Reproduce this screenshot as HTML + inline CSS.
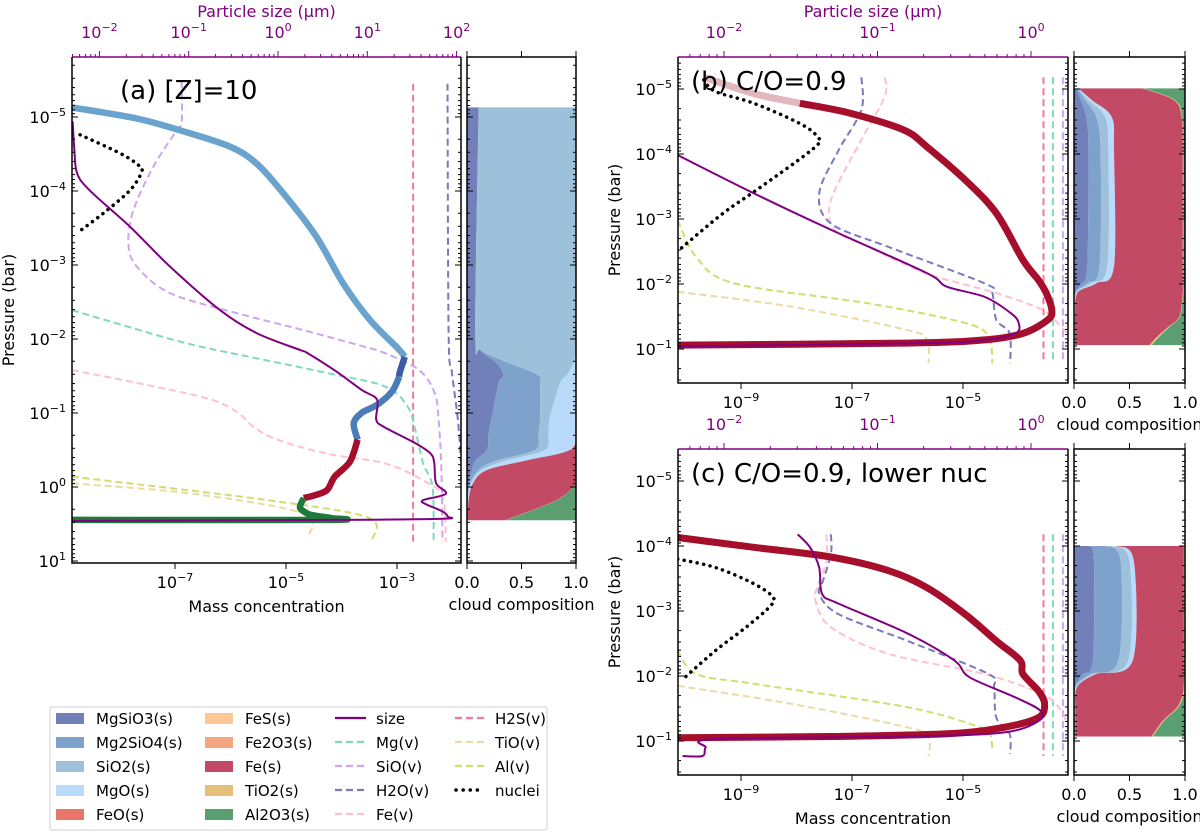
<!DOCTYPE html>
<html><head><meta charset="utf-8"><style>
html,body{margin:0;padding:0;background:#fff;}
svg{display:block;font-family:"DejaVu Sans","Liberation Sans",sans-serif;}
</style></head><body>
<svg id="chart" width="1200" height="834" viewBox="0 0 1200 834" xmlns="http://www.w3.org/2000/svg"></svg>
<script>
// ===== Panel (a) data: log10 mass concentration (x) / log10 pressure (p) =====
const aCloudX=[-8.86,-7.69,-6.91,-6.01,-5.53,-5.05,-4.45,-3.97,-3.49,-2.98,-2.86,-2.95,-2.96,-3.09,-3.36,-3.64,-3.78,-3.71,-3.85,-4.12,-4.26,-4.47,-4.68,-4.75,-4.68,-4.54,-4.19,-4.25,-8.86];
const aCloudP=[-5.13,-4.98,-4.82,-4.60,-4.37,-3.97,-3.38,-2.75,-2.26,-1.87,-1.76,-1.55,-1.49,-1.29,-1.11,-1.0,-0.86,-0.64,-0.34,-0.14,0.04,0.11,0.15,0.27,0.33,0.38,0.42,0.445,0.445];
const aCloudSp=['SiO2','SiO2','SiO2','SiO2','SiO2','SiO2','SiO2','SiO2','SiO2','SiO2','SiO2','MgSiO3','MgSiO3','Mg2SiO4','Mg2SiO4','Mg2SiO4','Mg2SiO4','Mg2SiO4','Fe','Fe','Fe','Fe','Fe','Al2O3','Al2O3','Al2O3','Al2O3','Al2O3','Al2O3'];
const aSizeS=[-2.30,-2.28,-2.25,-2.11,-1.66,-1.21,-0.65,-0.24,0.25,0.33,0.63,0.94,1.11,1.10,1.19,1.54,1.71,1.75,1.77,1.88,1.62,1.67,1.84,1.90,1.84,0.59,-2.31];
const aSizeP=[-4.94,-4.55,-4.24,-4.01,-3.52,-2.98,-2.39,-2.08,-1.85,-1.81,-1.58,-1.31,-1.18,-0.91,-0.81,-0.59,-0.45,-0.32,-0.05,0.09,0.18,0.24,0.33,0.40,0.43,0.445,0.46];
const aNucX=[-8.71,-7.99,-7.66,-7.60,-7.81,-8.29,-8.77];
const aNucP=[-4.76,-4.51,-4.35,-4.26,-4.01,-3.70,-3.43];
const aSioX=[-6.88,-6.88,-6.97,-7.39,-7.75,-7.84,-7.69,-7.09,-5.89,-4.69,-3.61,-3.22,-2.60,-2.32,-2.25,-2.20,-2.18];
const aSioP=[-5.48,-4.94,-4.82,-4.33,-3.74,-3.29,-2.98,-2.62,-2.35,-2.12,-1.90,-1.81,-1.58,-1.27,-0.91,-0.23,0.74];
const aMgX=[-8.86,-7.04,-6.25,-5.99,-4.26,-3.22,-2.81,-2.67,-2.53,-2.36,-2.34];
const aMgP=[-2.39,-1.99,-1.85,-1.81,-1.54,-1.36,-1.09,-0.77,-0.32,0.0,0.74];
const aFevX=[-8.86,-7.38,-6.34,-5.86,-5.58,-5.16,-4.26,-3.22,-2.53,-2.18,-2.12];
const aFevP=[-1.58,-1.36,-1.18,-1.0,-0.81,-0.64,-0.45,-0.32,-0.09,0.13,0.74];
const aAlX=[-8.86,-5.31,-3.50,-3.47];
const aAlP=[-0.14,0.18,0.42,0.74];
const aTioX=[-8.86,-6.69,-4.68,-4.61];
const aTioP=[-0.05,0.09,0.36,0.69];
const aH2sX=[-2.71,-2.71];
const aH2sP=[-5.45,0.74];
const aH2oX=[-2.09,-2.07,-2.01,-1.90,-1.85];
const aH2oP=[-5.45,-2.08,-1.55,-0.89,-0.35];
// panel (a) cloud composition (cumulative fractions vs log p)
const aCompP=[-5.13,-2.08,-1.85,-1.67,-1.51,-1.40,-0.95,-0.72,-0.5,-0.36,-0.23,-0.05,0.18,0.45];
const aCumMgSiO3=[0.107,0.076,0.122,0.274,0.335,0.29,0.229,0.198,0.183,0.076,0.046,0.015,0.006,0.006];
const aCumMg2SiO4=[0.107,0.076,0.128,0.396,0.655,0.671,0.671,0.655,0.625,0.274,0.107,0.03,0.006,0.006];
const aCumSiO2=[1,1,1,0.976,0.915,0.854,0.762,0.747,0.716,0.366,0.137,0.037,0.006,0.006];
const aCumMgO=[1,1,1,1,1,1,1,1,0.945,0.549,0.183,0.055,0.015,0.006];
const aCumFe=[1,1,1,1,1,1,1,1,1,1,1,1,0.82,0.35];
const aCumTiO2=[1,1,1,1,1,1,1,1,1,1,1,1,0.825,0.355];

// ===== Panel (b) data =====
const bCloudX=[-9.67,-8.77,-7.94,-7.04,-6.07,-5.65,-4.96,-4.40,-3.92,-3.64,-3.50,-3.40,-3.47,-3.92,-4.61,-6.0,-10.14];
const bCloudP=[-5.18,-4.93,-4.78,-4.63,-4.37,-4.11,-3.60,-3.09,-2.37,-2.06,-1.86,-1.60,-1.45,-1.24,-1.14,-1.09,-1.06];
const bSizeS=[-2.30,-1.81,-1.30,-0.68,-0.55,-0.30,-0.13,-0.08,-0.10,-0.30,-0.68,-2.30];
const bSizeP=[-3.98,-3.40,-2.83,-2.17,-1.96,-1.80,-1.55,-1.40,-1.24,-1.14,-1.09,-1.04];
const bNucX=[-9.67,-9.46,-8.77,-7.94,-7.63,-7.66,-8.63,-9.32,-10.08];
const bNucP=[-5.14,-4.96,-4.78,-4.47,-4.27,-4.11,-3.50,-3.09,-2.55];
const bH2oX=[-6.83,-6.83,-7.24,-7.59,-7.38,-6.34,-4.61,-4.47,-4.40,-4.16,-4.15];
const bH2oP=[-5.18,-4.68,-4.06,-3.40,-2.93,-2.57,-2.01,-1.86,-1.45,-1.24,-0.78];
const bFevX=[-6.41,-6.41,-6.83,-7.38,-7.31,-6.69,-5.65,-4.40,-3.57,-3.23,-3.13];
const bFevP=[-5.18,-4.88,-4.22,-3.29,-2.83,-2.57,-2.16,-1.86,-1.60,-1.34,-1.25];
const bAlX=[-10.14,-9.81,-9.12,-6.69,-4.96,-4.54,-4.47];
const bAlP=[-2.98,-2.42,-2.01,-1.70,-1.40,-1.19,-0.78];
const bTioX=[-10.14,-8.08,-6.0,-5.65,-5.62];
const bTioP=[-1.88,-1.65,-1.29,-1.14,-0.78];
const bVertX=[-3.55,-3.38,-3.20];
const bVertP=[-5.18,-0.78];
const bCompP=[-5.01,-4.83,-4.57,-4.06,-2.27,-2.01,-1.86,-1.50,-1.34,-1.19,-1.06];
const bCumMgSiO3=[0.02,0.06,0.11,0.13,0.12,0.07,0.01,0.005,0.005,0.005,0.005];
const bCumMg2SiO4=[0.03,0.10,0.20,0.24,0.23,0.12,0.015,0.006,0.006,0.006,0.006];
const bCumSiO2=[0.035,0.13,0.28,0.31,0.30,0.15,0.02,0.008,0.008,0.008,0.008];
const bCumMgO=[0.04,0.16,0.34,0.36,0.36,0.20,0.03,0.01,0.01,0.01,0.01];
const bCumFe=[0.62,0.90,0.97,0.98,0.98,0.98,0.98,0.95,0.85,0.75,0.68];
const bCumTiO2=[0.63,0.91,0.975,0.985,0.985,0.985,0.985,0.955,0.86,0.77,0.70];

// ===== Panel (c) data =====
const cCloudX=[-10.14,-8.77,-7.38,-6.34,-5.65,-4.96,-4.40,-3.97,-3.92,-3.64,-3.53,-3.64,-4.27,-5.30,-7.38,-10.14];
const cCloudP=[-4.13,-3.98,-3.83,-3.62,-3.36,-2.95,-2.54,-2.24,-2.03,-1.77,-1.57,-1.36,-1.21,-1.11,-1.07,-1.05];
const cSizeS=[-1.52,-1.44,-1.38,-1.36,-1.25,-0.80,-0.50,-0.40,-0.10,0.06,0.05,-0.18,-0.80,-2.06,-2.12,-2.14,-2.27];
const cSizeP=[-4.18,-3.98,-3.67,-3.26,-3.11,-2.65,-2.24,-1.98,-1.67,-1.47,-1.31,-1.13,-1.07,-1.03,-0.90,-0.77,-0.77];
const cNucX=[-10.14,-9.46,-8.77,-8.42,-8.49,-8.91,-9.46,-10.05];
const cNucP=[-3.80,-3.67,-3.42,-3.21,-3.06,-2.75,-2.39,-1.95];
const cH2oX=[-7.38,-7.38,-7.52,-7.59,-7.24,-6.0,-4.54,-4.44,-4.40,-4.16,-4.15];
const cH2oP=[-4.18,-3.88,-3.47,-3.26,-2.95,-2.54,-2.03,-1.83,-1.36,-1.11,-0.80];
const cFevX=[-7.46,-7.46,-7.63,-7.66,-7.38,-6.34,-4.61,-3.57,-3.23,-3.13];
const cFevP=[-4.18,-3.77,-3.36,-3.16,-2.75,-2.34,-2.03,-1.72,-1.47,-1.26];
const cAlX=[-10.14,-9.81,-8.77,-6.0,-4.68,-4.51,-4.47];
const cAlP=[-2.39,-2.03,-1.88,-1.52,-1.21,-1.11,-0.83];
const cTioX=[-10.14,-8.08,-6.0,-5.62,-5.62];
const cTioP=[-1.85,-1.57,-1.21,-1.06,-0.77];
const cVertX=[-3.55,-3.38,-3.20];
const cVertP=[-4.18,-0.77];
const cCompP=[-4.0,-3.77,-2.24,-2.03,-1.88,-1.72,-1.52,-1.31,-1.07];
const cCumMgSiO3=[0.14,0.18,0.17,0.08,0.02,0.005,0.005,0.005,0.005];
const cCumMg2SiO4=[0.28,0.42,0.40,0.15,0.03,0.007,0.007,0.007,0.007];
const cCumSiO2=[0.34,0.50,0.49,0.18,0.04,0.01,0.01,0.01,0.01];
const cCumMgO=[0.38,0.54,0.53,0.20,0.05,0.012,0.012,0.012,0.012];
const cCumFe=[0.99,0.99,0.99,0.99,0.99,0.98,0.93,0.80,0.70];
const cCumTiO2=[0.995,0.995,0.995,0.995,0.995,0.99,0.94,0.812,0.712];

// tick labels
const aYTicks=[-5,-4,-3,-2,-1,0,1];
const bYTicks=[-5,-4,-3,-2,-1];
const aXTicks=[-7,-5,-3];
const bXTicks=[-9,-7,-5];
const aSizeTicks=[-2,-1,0,1,2];
const bSizeTicks=[-2,-1,0];
const compTicks=['0.0','0.5','1.0'];

const NS='http://www.w3.org/2000/svg';
const svg=document.getElementById('chart');
function el(tag,attrs,parent){const e=document.createElementNS(NS,tag);for(const k in attrs)e.setAttribute(k,attrs[k]);(parent||svg).appendChild(e);return e;}
const COL={MgSiO3:'#7180b9',Mg2SiO4:'#7ea2cc',SiO2:'#9dc1db',MgO:'#b9dafa',FeO:'#e8766a',FeS:'#fcc994',Fe2O3:'#f4a582',Fe:'#c24a64',TiO2:'#e5c07a',Al2O3:'#5b9e71'};
const LINECOL={SiO2:'#6aa3cd',MgSiO3:'#3d5ba6',Mg2SiO4:'#4a7db8',Fe:'#a50f2b',Al2O3:'#1d7a3b'};

const panels={
 a:{x0:72,x1:461,y0:57,y1:563,cx0:467,cx1:576,px:v=>175+(v+7)*55.5,py:v=>117+(v+5)*74,ps:v=>278+v*89.3},
 b:{x0:678,x1:1068,y0:57,y1:383,cx0:1074,cx1:1185,px:v=>852+(v+7)*55.5,py:v=>89+(v+5)*65,ps:v=>1031+v*153.5},
 c:{x0:678,x1:1068,y0:449,y1:775,cx0:1074,cx1:1185,px:v=>852+(v+7)*55.5,py:v=>481+(v+5)*65,ps:v=>1031+v*153.5}
};
const defs=el('defs',{});
for(const k in panels){const P=panels[k];
 const cp=el('clipPath',{id:'clip-'+k},defs);el('rect',{x:P.x0,y:P.y0,width:P.x1-P.x0,height:P.y1-P.y0},cp);
 const cc=el('clipPath',{id:'clipc-'+k},defs);el('rect',{x:P.cx0,y:P.y0,width:P.cx1-P.cx0,height:P.y1-P.y0},cc);}

function sup(parent,x,y,base,exp,anchor,color,size){
 const t=el('text',{x:x,y:y,'text-anchor':anchor,'font-size':size||16,fill:color||'#000'},parent);
 t.appendChild(document.createTextNode(base));
 const s=el('tspan',{dy:-7,'font-size':11},t);s.textContent=exp<0?'\u2212'+(-exp):String(exp);
 return t;}

// Catmull-Rom smoothing
function smoothPath(pts){
 if(pts.length<3)return 'M'+pts.map(p=>p[0].toFixed(1)+','+p[1].toFixed(1)).join(' L');
 let d='M'+pts[0][0].toFixed(1)+','+pts[0][1].toFixed(1);
 for(let i=0;i<pts.length-1;i++){
  const p0=pts[Math.max(0,i-1)],p1=pts[i],p2=pts[i+1],p3=pts[Math.min(pts.length-1,i+2)];
  const t=0.16;
  const c1=[p1[0]+(p2[0]-p0[0])*t,p1[1]+(p2[1]-p0[1])*t];
  const c2=[p2[0]-(p3[0]-p1[0])*t,p2[1]-(p3[1]-p1[1])*t];
  d+=` C${c1[0].toFixed(1)},${c1[1].toFixed(1)} ${c2[0].toFixed(1)},${c2[1].toFixed(1)} ${p2[0].toFixed(1)},${p2[1].toFixed(1)}`;}
 return d;}

function drawLine(g,P,xs,ps,mapX,color,width,dash,name,extra){
 const pts=xs.map((v,i)=>[mapX(v),P.py(ps[i])]);
 const attrs={d:smoothPath(pts),fill:'none',stroke:color,'stroke-width':width,'stroke-linejoin':'round'};
 if(dash)attrs['stroke-dasharray']=dash;
 if(extra)for(const k in extra)attrs[k]=extra[k];
 const l=el('path',attrs,g);
 
 
 return l;}

function drawComp(P,key,rows,cums){
 const g=el('g',{'clip-path':'url(#clipc-'+key+')'});
 
 
 const W=P.cx1-P.cx0;
 const order=['MgSiO3','Mg2SiO4','SiO2','MgO','Fe','TiO2','Al2O3'];
 let prev=rows.map(()=>0);
 order.forEach((sp,i)=>{
  const cur=i<order.length-1?cums[i]:rows.map(()=>1);
  const right=rows.map((p,j)=>[P.cx0+cur[j]*W,P.py(p)]);
  const left=rows.map((p,j)=>[P.cx0+prev[j]*W,P.py(p)]).reverse();
  const d=smoothPath(right)+' L'+left[0][0].toFixed(1)+','+left[0][1].toFixed(1)+smoothPath(left).replace(/^M[^C L]*/,'')+' Z';
  const poly=el('path',{d:d,fill:COL[sp],stroke:'none'},g);
  
  
  prev=cur;});}

function yTicks(g,P,x0,x1,dmin,dmax,color){
 for(let d=dmin;d<=dmax;d++){
  for(let k=1;k<=9;k++){
   const v=d+Math.log10(k);const y=P.py(v);
   if(y<P.y0-0.5||y>P.y1+0.5)continue;
   const L=k===1?6:3;
   el('line',{x1:x0,y1:y,x2:x0+L,y2:y,stroke:color||'#000','stroke-width':1},g);
   el('line',{x1:x1,y1:y,x2:x1-L,y2:y,stroke:color||'#000','stroke-width':1},g);}}}

function drawAxes(key,yT,xT,sT,showXLabel,showTitle,ylabelY,labelText,labY){
 const P=panels[key];
 const g=el('g',{});
 
 
 el('line',{x1:P.x0,y1:P.y0,x2:P.x1,y2:P.y0,stroke:'#800080','stroke-width':1.5},g);
 el('polyline',{points:`${P.x1},${P.y0} ${P.x1},${P.y1} ${P.x0},${P.y1} ${P.x0},${P.y0}`,fill:'none',stroke:'#000','stroke-width':1.5},g);
 el('rect',{x:P.cx0,y:P.y0,width:P.cx1-P.cx0,height:P.y1-P.y0,fill:'none',stroke:'#000','stroke-width':1.5},g);
 yTicks(g,P,P.x0,P.x1,-6,1);
 yTicks(g,P,P.cx0,P.cx1,-6,1);
 yT.forEach(v=>{const t=sup(g,P.x0-6,P.py(v)+6,'10',v,'end');});
 const xy=P.y1+25;
 xT.forEach(v=>{const x=P.px(v);el('line',{x1:x,y1:P.y1,x2:x,y2:P.y1+6,stroke:'#000','stroke-width':1},g);
  const t=sup(g,x,xy,'10',v,'middle');});
 compTicks.forEach((s,i)=>{const x=P.cx0+i*(P.cx1-P.cx0)/2;
  el('line',{x1:x,y1:P.y1,x2:x,y2:P.y1+6,stroke:'#000','stroke-width':1},g);
  el('line',{x1:x,y1:P.y0,x2:x,y2:P.y0-6,stroke:'#000','stroke-width':1},g);
  const t=el('text',{x:x,y:xy,'text-anchor':'middle','font-size':16},g);t.textContent=s;
  });
 const cl=el('text',{x:(P.cx0+P.cx1)/2,y:xy+22,'text-anchor':'middle','font-size':16},g);cl.textContent='cloud composition';
 
 const smin=(P.x0-P.ps(0))/(P.ps(1)-P.ps(0)),smax=(P.x1-P.ps(0))/(P.ps(1)-P.ps(0));
 for(let d=Math.floor(smin);d<=Math.ceil(smax);d++){for(let k=1;k<=9;k++){const v=d+Math.log10(k);const x=P.ps(v);
  if(x<P.x0||x>P.x1)continue;el('line',{x1:x,y1:P.y0,x2:x,y2:P.y0-(k===1?6:3),stroke:'#800080','stroke-width':1},g);}}
 sT.forEach(v=>{const t=sup(g,P.ps(v),P.y0-19,'10',v,'middle','#800080');});
 if(showTitle){const t=el('text',{x:(P.x0+P.x1)/2,y:P.y0-40,'text-anchor':'middle','font-size':16,fill:'#800080'},g);t.textContent='Particle size (\u03bcm)';
  }
 if(showXLabel){const t=el('text',{x:(P.x0+P.x1)/2,y:xy+24,'text-anchor':'middle','font-size':16},g);t.textContent='Mass concentration';
  }
 const yl=el('text',{x:0,y:0,'text-anchor':'middle','font-size':16,transform:`translate(${P.x0-58},${ylabelY}) rotate(-90)`},g);yl.textContent='Pressure (bar)';
 
 const pl=el('text',{x:P.x0+48+(key==='a'?0:-35),y:labY,'font-size':26},g);pl.textContent=labelText;
 
}

function drawPanel(key,d){
 const P=panels[key];
 drawComp(P,key,d.compP,d.cums);
 const g=el('g',{'clip-path':'url(#clip-'+key+')'});
 
 
 d.verts.forEach((v,i)=>drawLine(g,P,[v,v],d.vertP,P.px,d.vertCols[i],2,'7,4',d.vertNames[i]));
 drawLine(g,P,d.tioX,d.tioP,P.px,'#e9dba2',2,'7,4','tio-vapor');
 drawLine(g,P,d.alX,d.alP,P.px,'#cfde6c',2,'7,4','al-vapor');
 drawLine(g,P,d.fevX,d.fevP,P.px,'#ffc0cf',2,'7,4','fe-vapor');
 if(d.mgX)drawLine(g,P,d.mgX,d.mgP,P.px,'#7fd8c0',2,'7,4','mg-vapor');
 if(d.sioX)drawLine(g,P,d.sioX,d.sioP,P.px,'#cfa5ee',2,'7,4','sio-vapor');
 drawLine(g,P,d.h2oX,d.h2oP,P.px,'#7b78bb',2,'7,4','h2o-vapor');
 drawLine(g,P,d.nucX,d.nucP,P.px,'#000',3.5,'0.1,6.5','nuclei',{'stroke-linecap':'round'});
 if(d.cloudSp){
  let start=0;
  for(let i=1;i<d.cloudX.length;i++){
   const sp=d.cloudSp[i];
   if(i===d.cloudX.length-1||d.cloudSp[i+1]!==sp){
    const s0=Math.max(0,start-1);
    drawLine(g,P,d.cloudX.slice(s0,i+1),d.cloudP.slice(s0,i+1),P.px,LINECOL[sp],6.5,null,'cloud-mass-'+sp,{'stroke-linecap':'butt'});
    start=i+1;}}
 }else if(d.faded){
  drawLine(g,P,d.cloudX.slice(0,3),d.cloudP.slice(0,3),P.px,'#a50f2b',7,null,'cloud-mass-faded',{'stroke-opacity':0.3});
  drawLine(g,P,d.cloudX.slice(2),d.cloudP.slice(2),P.px,'#a50f2b',7,null,'cloud-mass-Fe');
 }else{
  drawLine(g,P,d.cloudX,d.cloudP,P.px,'#a50f2b',7,null,'cloud-mass-Fe');
 }
 drawLine(g,P,d.sizeS,d.sizeP,P.ps,'#800080',2,null,'particle-size');
}

const vertColsB=['#f07a9c','#7fd8c0','#cfa5ee'];
drawPanel('a',{compP:aCompP,cums:[aCumMgSiO3,aCumMg2SiO4,aCumSiO2,aCumMgO,aCumFe,aCumTiO2],
 verts:aH2sX.slice(0,1),vertP:aH2sP,vertCols:['#f07a9c'],vertNames:['h2s-vapor'],
 tioX:aTioX,tioP:aTioP,alX:aAlX,alP:aAlP,fevX:aFevX,fevP:aFevP,mgX:aMgX,mgP:aMgP,sioX:aSioX,sioP:aSioP,
 h2oX:aH2oX,h2oP:aH2oP,nucX:aNucX,nucP:aNucP,cloudX:aCloudX,cloudP:aCloudP,cloudSp:aCloudSp,sizeS:aSizeS,sizeP:aSizeP});
drawPanel('b',{compP:bCompP,cums:[bCumMgSiO3,bCumMg2SiO4,bCumSiO2,bCumMgO,bCumFe,bCumTiO2],
 verts:bVertX,vertP:bVertP,vertCols:vertColsB,vertNames:['h2s-vapor','mg-vapor','sio-vapor'],
 tioX:bTioX,tioP:bTioP,alX:bAlX,alP:bAlP,fevX:bFevX,fevP:bFevP,faded:true,
 h2oX:bH2oX,h2oP:bH2oP,nucX:bNucX,nucP:bNucP,cloudX:bCloudX,cloudP:bCloudP,sizeS:bSizeS,sizeP:bSizeP});
drawPanel('c',{compP:cCompP,cums:[cCumMgSiO3,cCumMg2SiO4,cCumSiO2,cCumMgO,cCumFe,cCumTiO2],
 verts:cVertX,vertP:cVertP,vertCols:vertColsB,vertNames:['h2s-vapor','mg-vapor','sio-vapor'],
 tioX:cTioX,tioP:cTioP,alX:cAlX,alP:cAlP,fevX:cFevX,fevP:cFevP,
 h2oX:cH2oX,h2oP:cH2oP,nucX:cNucX,nucP:cNucP,cloudX:cCloudX,cloudP:cCloudP,sizeS:cSizeS,sizeP:cSizeP});

drawAxes('a',aYTicks,aXTicks,aSizeTicks,true,true,310,'(a) [Z]=10',99);
drawAxes('b',bYTicks,bXTicks,bSizeTicks,false,true,220,'(b) C/O=0.9',90);
drawAxes('c',bYTicks,bXTicks,bSizeTicks,true,false,612,'(c) C/O=0.9, lower nuc',482);

// legend
const legNames=[['MgSiO3(s)','Mg2SiO4(s)','SiO2(s)','MgO(s)','FeO(s)'],['FeS(s)','Fe2O3(s)','Fe(s)','TiO2(s)','Al2O3(s)'],['size','Mg(v)','SiO(v)','H2O(v)','Fe(v)'],['H2S(v)','TiO(v)','Al(v)','nuclei']];
const legCols=[[COL.MgSiO3,COL.Mg2SiO4,COL.SiO2,COL.MgO,COL.FeO],[COL.FeS,COL.Fe2O3,COL.Fe,COL.TiO2,COL.Al2O3],['#800080','#7fd8c0','#cfa5ee','#7b78bb','#ffc0cf'],['#f07a9c','#e9dba2','#cfde6c','#000']];
const legend=el('g',{});


el('rect',{x:50,y:707,width:497,height:123,fill:'#fff',stroke:'#d0d0d0','stroke-width':1,rx:2},legend);
const colX=[56,205,335,455],textX=[96,245,376,495];
legNames.forEach((col,ci)=>col.forEach((n,ri)=>{
 const y=718+ri*24;
 const eg=el('g',{},legend);
 
 
 if(ci<2){el('rect',{x:colX[ci],y:y-5,width:28,height:11,fill:legCols[ci][ri]},eg);}
 else if(n==='size'){el('line',{x1:colX[ci],y1:y,x2:colX[ci]+31,y2:y,stroke:legCols[ci][ri],'stroke-width':2.2},eg);}
 else if(n==='nuclei'){el('line',{x1:colX[ci]+1,y1:y,x2:colX[ci]+28,y2:y,stroke:'#000','stroke-width':3.5,'stroke-dasharray':'0.1,7','stroke-linecap':'round'},eg);}
 else{el('line',{x1:colX[ci],y1:y,x2:colX[ci]+29,y2:y,stroke:legCols[ci][ri],'stroke-width':2.2,'stroke-dasharray':'7,4'},eg);}
 const t=el('text',{x:textX[ci],y:y+6,'font-size':15},eg);t.textContent=n;
}));
</script>
</body></html>
